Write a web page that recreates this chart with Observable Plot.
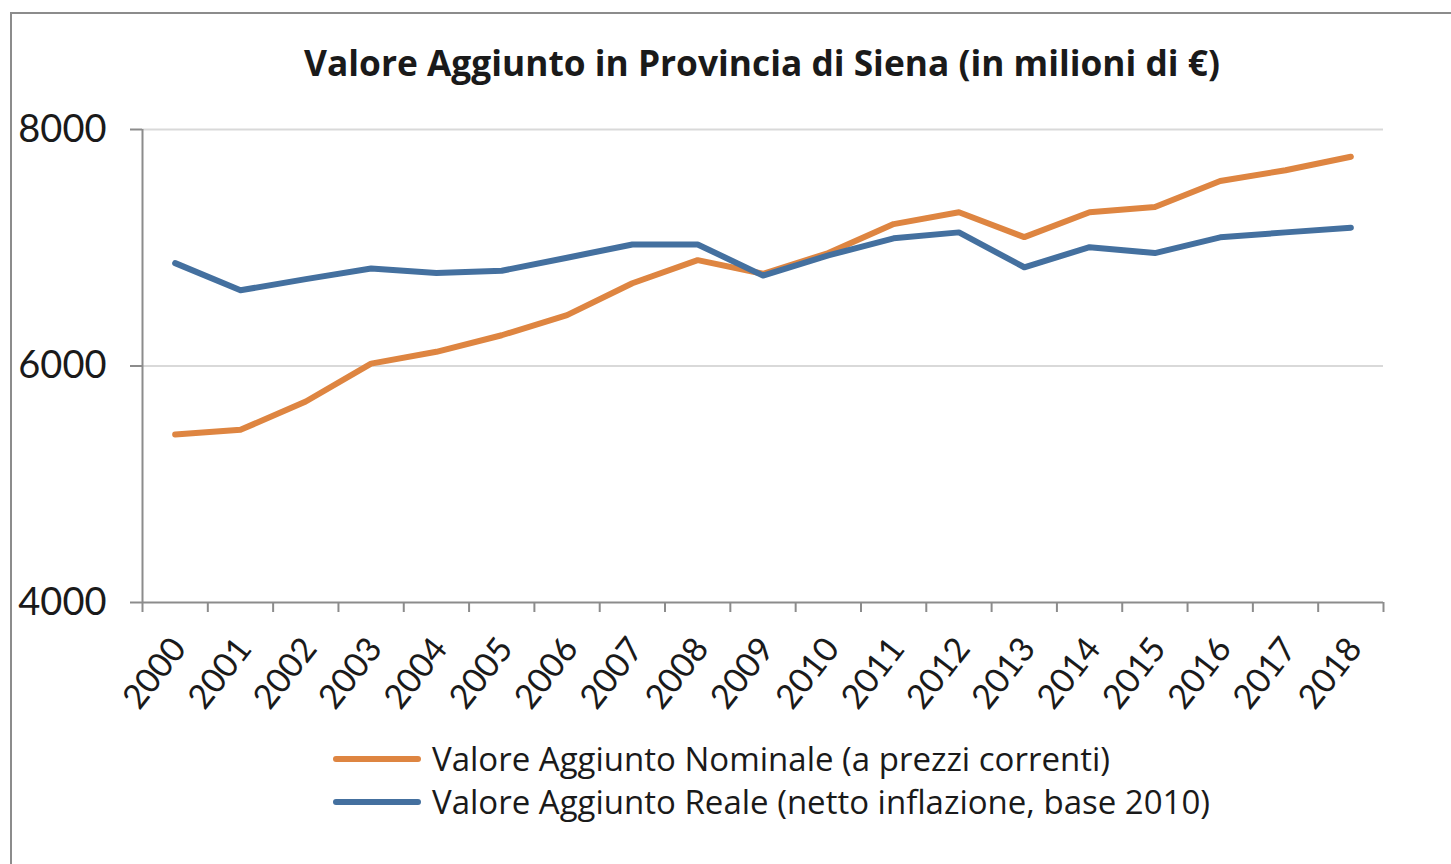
<!DOCTYPE html>
<html>
<head>
<meta charset="utf-8">
<script src="https://cdn.jsdelivr.net/npm/d3@7"></script>
<script src="https://cdn.jsdelivr.net/npm/@observablehq/plot@0.6"></script>
<style>
  html, body { margin: 0; padding: 0; background: #fff; overflow: hidden; }
  #wrap { position: relative; width: 1451px; height: 864px; overflow: hidden; font-family: "Open Sans", Lato, sans-serif; color: #1a1a1a; }
  #frame { position: absolute; left: 10px; top: 12px; width: 1600px; height: 1000px; border-left: 2px solid #8c8c8c; border-top: 2px solid #8c8c8c; }
  #title { position: absolute; left: 0; width: 1524px; top: 42px; text-align: center; font-weight: 700; font-size: 35.3px; line-height: 40px; white-space: nowrap; }
  #chart { position: absolute; left: 0; top: 0; }
  #legend { position: absolute; left: 333px; top: 737px; font-size: 33px; line-height: 43px; }
  .item { display: flex; align-items: center; white-space: nowrap; }
  .sw { width: 88px; height: 6px; border-radius: 3px; margin-right: 11px; }
</style>
</head>
<body>
<div id="wrap">
  <div id="frame"></div>
  <div id="title">Valore Aggiunto in Provincia di Siena (in milioni di €)</div>
  <div id="chart"></div>
  <div id="legend"></div>
</div>
<script>
const years = [2000, 2001, 2002, 2003, 2004, 2005, 2006, 2007, 2008, 2009, 2010, 2011, 2012, 2013, 2014, 2015, 2016, 2017, 2018];
const nominale = [5420, 5460, 5700, 6020, 6120, 6260, 6430, 6700, 6895, 6780, 6955, 7200, 7300, 7090, 7300, 7345, 7565, 7655, 7770];
const reale = [6870, 6640, 6735, 6825, 6786, 6805, 6915, 7028, 7028, 6765, 6935, 7080, 7130, 6835, 7005, 6955, 7088, 7130, 7170];
const seriesNames = ["Valore Aggiunto Nominale (a prezzi correnti)", "Valore Aggiunto Reale (netto inflazione, base 2010)"];
const seriesColors = ["#de8541", "#44709f"];
const yTicks = [4000, 6000, 8000];
const gridTicks = [6000, 8000];

const data = [];
years.forEach((y, i) => {
  data.push({year: y, value: nominale[i], series: seriesNames[0]});
  data.push({year: y, value: reale[i], series: seriesNames[1]});
});
const bounds = [years[0] - 0.5, ...years.map(y => y + 0.5)];
const axisGray = "#8c8c8c";

const plot = Plot.plot({
  width: 1451,
  height: 864,
  marginLeft: 142,
  marginRight: 68,
  marginTop: 129,
  marginBottom: 262,
  style: {fontFamily: "Lato, 'Open Sans', sans-serif", color: "#1a1a1a", background: "transparent"},
  x: {type: "linear", domain: [bounds[0], bounds[bounds.length - 1]]},
  y: {domain: [4000, 8000]},
  color: {domain: seriesNames, range: seriesColors},
  marks: [
    Plot.gridY(gridTicks, {stroke: "#d9d9d9", strokeOpacity: 1, strokeWidth: 2}),
    Plot.ruleX([bounds[0]], {stroke: axisGray, strokeWidth: 2}),
    Plot.ruleY([4000], {stroke: axisGray, strokeWidth: 2}),
    Plot.axisY({ticks: yTicks, tickSize: 12, tickPadding: 24, fontSize: 38, stroke: axisGray, strokeWidth: 2, strokeOpacity: 1, label: null, tickFormat: d => String(d)}),
    Plot.axisX({ticks: bounds, tickSize: 10, stroke: axisGray, strokeWidth: 2, strokeOpacity: 1, tickFormat: () => "", label: null}),
    Plot.axisX({ticks: years, tickSize: 0, tickPadding: 40, tickRotate: -52, fontSize: 34, dx: 4, tickFormat: d => String(d), label: null}),
    Plot.lineY(data, {x: "year", y: "value", z: "series", stroke: "series", strokeWidth: 6, strokeLinecap: "round", strokeLinejoin: "round"})
  ]
});
document.getElementById("chart").appendChild(plot);

const legend = document.getElementById("legend");
seriesNames.forEach((name, i) => {
  const it = document.createElement("div");
  it.className = "item";
  const sw = document.createElement("div");
  sw.className = "sw";
  sw.style.background = seriesColors[i];
  const tx = document.createElement("span");
  tx.textContent = name;
  it.appendChild(sw);
  it.appendChild(tx);
  legend.appendChild(it);
});
</script>
</body>
</html>
